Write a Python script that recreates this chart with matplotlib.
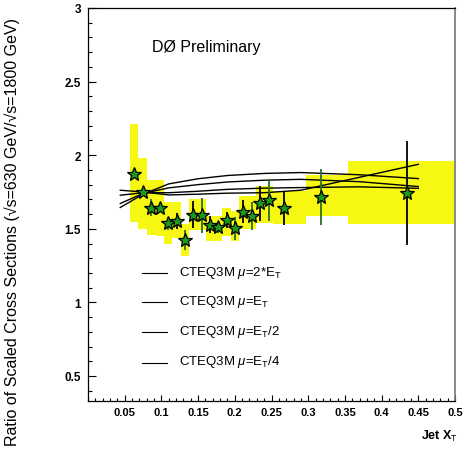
import matplotlib
matplotlib.use('Agg')
import matplotlib.pyplot as plt
from matplotlib.ticker import MultipleLocator, FixedLocator

plt.rcParams['font.family'] = ['Liberation Sans', 'DejaVu Sans']
plt.rcParams['mathtext.fontset'] = 'custom'
plt.rcParams['mathtext.rm'] = 'Liberation Sans'
plt.rcParams['mathtext.it'] = 'Liberation Sans:italic'

# ---- data ----
x_t = [0.0627, 0.0749, 0.0862, 0.0981, 0.1090, 0.1208, 0.1326, 0.1435, 0.1549, 0.1662,
       0.1775, 0.1890, 0.2003, 0.2116, 0.2234, 0.2347, 0.2462, 0.2670, 0.3170, 0.4350]
ratio = [1.875, 1.750, 1.642, 1.642, 1.538, 1.554, 1.425, 1.597, 1.592, 1.529,
         1.509, 1.558, 1.502, 1.617, 1.588, 1.674, 1.696, 1.638, 1.719, 1.746]
stat_err = [0.03, 0.03, 0.058, 0.03, 0.045, 0.054, 0.068, 0.09, 0.118, 0.056,
            0.038, 0.054, 0.075, 0.078, 0.093, 0.119, 0.141, 0.109, 0.19, 0.353]
sys_lo = [1.545, 1.50, 1.46, 1.452, 1.40, 1.44, 1.316, 1.49, 1.49, 1.42,
          1.42, 1.45, 1.42, 1.50, 1.50, 1.54, 1.54, 1.531, 1.588, 1.531]
sys_hi = [2.21, 1.984, 1.83, 1.83, 1.68, 1.68, 1.53, 1.70, 1.70, 1.59,
          1.59, 1.64, 1.62, 1.72, 1.72, 1.79, 1.79, 1.757, 1.866, 1.96]
bin_edges = [0.0570, 0.0688, 0.0806, 0.0921, 0.1035, 0.1149, 0.1267, 0.1381, 0.1492, 0.1605,
             0.1719, 0.1832, 0.1947, 0.2060, 0.2175, 0.2290, 0.2405, 0.2520, 0.2970, 0.3540,
             0.5000]

theory_x = [0.044, 0.075, 0.11, 0.15, 0.19, 0.24, 0.29, 0.37, 0.45]
cteq_2et = [1.645, 1.735, 1.805, 1.840, 1.862, 1.876, 1.882, 1.867, 1.841]
cteq_et = [1.672, 1.740, 1.778, 1.800, 1.818, 1.830, 1.836, 1.820, 1.787]
cteq_et2 = [1.728, 1.745, 1.745, 1.755, 1.768, 1.776, 1.780, 1.785, 1.775]
cteq_et4 = [1.762, 1.750, 1.730, 1.735, 1.742, 1.745, 1.762, 1.850, 1.938]
legend_labels = ['CTEQ3M $\\mathit{\\mu}$=2*E$_\\mathrm{T}$',
                 'CTEQ3M $\\mathit{\\mu}$=E$_\\mathrm{T}$',
                 'CTEQ3M $\\mathit{\\mu}$=E$_\\mathrm{T}$/2',
                 'CTEQ3M $\\mathit{\\mu}$=E$_\\mathrm{T}$/4']

x_ticks = [0.05, 0.1, 0.15, 0.2, 0.25, 0.3, 0.35, 0.4, 0.45, 0.5]
x_ticklabels = ['0.05', '0.1', '0.15', '0.2', '0.25', '0.3', '0.35', '0.4', '0.45', '0.5']
y_ticks = [0.5, 1, 1.5, 2, 2.5, 3]
y_ticklabels = ['0.5', '1', '1.5', '2', '2.5', '3']

# ---- figure ----
W, H = 465, 456
fig = plt.figure(figsize=(W / 100, H / 100), dpi=100)
ax = fig.add_axes([88 / W, 1 - 402 / H, 367 / W, 393 / H])
ax.set_xlim(0, 0.5)
ax.set_ylim(0.33, 3.0)

yellow = '#f7f714'
dkgreen = '#2a6e2a'

# systematic bands
lefts = bin_edges[:-1]
widths = [bin_edges[i + 1] - bin_edges[i] for i in range(len(lefts))]
heights = [h - l for h, l in zip(sys_hi, sys_lo)]
ax.bar(lefts, heights, width=widths, bottom=sys_lo, align='edge',
       color=yellow, linewidth=0, zorder=1)

# theory curves
for curve in (cteq_2et, cteq_et, cteq_et2, cteq_et4):
    ax.plot(theory_x, curve, color='black', lw=1.0, zorder=2)

# error bars (alternating colours)
for i in range(len(x_t)):
    col = dkgreen if i % 2 == 0 else 'black'
    ax.errorbar([x_t[i]], [ratio[i]], yerr=[stat_err[i]], fmt='none',
                ecolor=col, elinewidth=1.3, capsize=0, zorder=3)

# data markers
ax.plot(x_t, ratio, linestyle='none', marker='*', markersize=10,
        markerfacecolor='#1c9a1c', markeredgecolor='black', markeredgewidth=0.9,
        zorder=4)

# legend drawn PAW-style
leg_y = [1.2, 1.0, 0.8, 0.59]
for yy, lab in zip(leg_y, legend_labels):
    ax.plot([0.0731, 0.108], [yy, yy], color='black', lw=0.8, zorder=2)
    ax.text(0.1244, yy - 0.012, lab, fontsize=9.5, va='baseline', ha='left')

ax.text(0.087, 2.71, 'DØ Preliminary', fontsize=11.5, va='baseline', ha='left')

# axes styling
ax.xaxis.set_major_locator(FixedLocator(x_ticks))
ax.set_xticklabels(x_ticklabels)
ax.xaxis.set_minor_locator(MultipleLocator(0.01))
ax.yaxis.set_major_locator(FixedLocator(y_ticks))
ax.set_yticklabels(y_ticklabels)
ax.yaxis.set_minor_locator(MultipleLocator(0.1))

ax.tick_params(axis='x', which='major', direction='in', length=4, width=0.8,
               labelsize=8, pad=4, top=False)
ax.tick_params(axis='x', which='minor', direction='in', length=2, width=0.8, top=False)
ax.tick_params(axis='y', which='major', direction='in', length=6, width=0.8,
               labelsize=8.5, pad=5, right=False)
ax.tick_params(axis='y', which='minor', direction='in', length=3, width=0.8, right=False)
for lab in ax.get_xticklabels() + ax.get_yticklabels():
    lab.set_fontweight('bold')

for s in ('left', 'bottom', 'top'):
    ax.spines[s].set_linewidth(0.9)
ax.spines['right'].set_color('#777777')
ax.spines['right'].set_linewidth(1.2)

fig.text(12 / W, 1 - 232 / H,
         'Ratio of Scaled Cross Sections (√s=630 GeV/√s=1800 GeV)',
         rotation=90, ha='center', va='center', fontsize=11.5)
fig.text(458 / W, 1 - 440 / H, 'Jet X$_\\mathrm{T}$', ha='right', va='baseline',
         fontsize=9, fontweight='bold')

fig.savefig('out.png', dpi=100)
